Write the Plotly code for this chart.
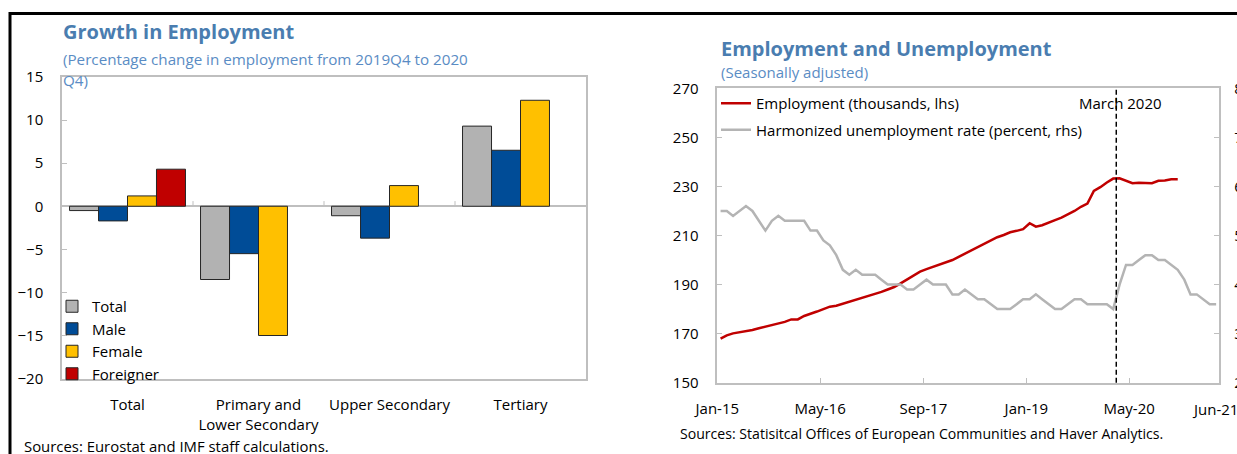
import pandas as pd
import plotly.graph_objects as go

# ---- Left panel: growth in employment by education level ----
categories = ["Total", "Primary and Lower Secondary", "Upper Secondary", "Tertiary"]
category_labels = ["Total", "Primary and<br>Lower Secondary", "Upper Secondary", "Tertiary"]
growth_total = [-0.5, -8.5, -1.1, 9.3]
growth_male = [-1.7, -5.5, -3.7, 6.5]
growth_female = [1.2, -15.0, 2.4, 12.3]
growth_foreigner = [4.3, None, None, None]

# ---- Right panel: monthly employment and unemployment rate ----
employment = [
    168.0, 169.3, 170.1, 170.5, 170.9, 171.5, 172.2, 172.9, 173.5, 174.0,
    174.8, 175.8, 175.8, 177.2, 178.0, 179.0, 180.0, 181.0, 181.4, 182.2,
    183.0, 183.7, 184.5, 185.4, 186.2, 187.0, 188.0, 189.0, 190.5, 192.2,
    193.8, 195.3, 196.3, 197.2, 198.0, 198.8, 200.0, 201.3, 202.6, 203.8,
    205.3, 206.8, 208.0, 209.3, 210.2, 211.3, 211.9, 212.6, 215.0, 213.6,
    214.2, 215.4, 216.3, 217.3, 218.5, 220.0, 221.7, 223.0, 228.2, 229.7,
    231.6, 233.2, 233.3, 232.3, 231.3, 231.5, 231.5, 231.3, 232.3, 232.4,
    232.9, 232.9,
]
unemployment_rate = [
    5.5, 5.5, 5.4, 5.5, 5.6, 5.5, 5.3, 5.1, 5.3, 5.4,
    5.3, 5.3, 5.3, 5.3, 5.1, 5.1, 4.9, 4.8, 4.6, 4.3,
    4.2, 4.3, 4.2, 4.2, 4.2, 4.1, 4.0, 4.0, 4.0, 3.9,
    3.9, 4.0, 4.1, 4.0, 4.0, 4.0, 3.8, 3.8, 3.9, 3.8,
    3.7, 3.7, 3.6, 3.5, 3.5, 3.5, 3.6, 3.7, 3.7, 3.8,
    3.7, 3.6, 3.5, 3.5, 3.6, 3.7, 3.7, 3.6, 3.6, 3.6,
    3.6, 3.5, 4.0, 4.4, 4.4, 4.5, 4.6, 4.6, 4.5, 4.5,
    4.4, 4.3, 4.1, 3.8, 3.8, 3.7, 3.6, 3.6,
]
employment_months = pd.date_range("2015-01-01", periods=len(employment), freq="MS")
unemployment_months = pd.date_range("2015-01-01", periods=len(unemployment_rate), freq="MS")
date_tick_values = ["2015-01-01", "2016-05-01", "2017-09-01", "2019-01-01", "2020-05-01"]
date_tick_labels = ["Jan-15", "May-16", "Sep-17", "Jan-19", "May-20"]
marker_date = "2020-03-01"

W, H = 1237, 454
FONT = "Open Sans"
TITLE_BLUE = "#4A7DB0"
SUB_BLUE = "#5A8CC4"
FRAME = "#BFBFBF"


def px_x(x):
    return x / W


def px_y(y):
    return 1 - y / H


fig = go.Figure()

bar_series = [
    ("Total", growth_total, "#B2B2B2"),
    ("Male", growth_male, "#004C97"),
    ("Female", growth_female, "#FFC000"),
    ("Foreigner", growth_foreigner, "#C00000"),
]
for name, values, color in bar_series:
    fig.add_trace(go.Bar(
        x=categories, y=values, name=name,
        marker=dict(color=color, line=dict(color="#262626", width=1)),
        xaxis="x", yaxis="y", legend="legend",
    ))

fig.add_trace(go.Scatter(
    x=employment_months, y=employment, name="Employment (thousands, lhs)",
    mode="lines", line=dict(color="#C00000", width=2.5),
    xperiod="M1", xperiodalignment="middle",
    xaxis="x2", yaxis="y3", legend="legend2", legendgroup="emp",
))
fig.add_trace(go.Scatter(
    x=unemployment_months, y=unemployment_rate,
    name="Harmonized unemployment rate (percent, rhs)",
    mode="lines", line=dict(color="#B4B4B4", width=2.5),
    xperiod="M1", xperiodalignment="middle",
    xaxis="x2", yaxis="y4", legend="legend2", legendgroup="unemp",
))

tick_font = dict(family=FONT, size=15, color="#000000")
left_dom_x = [px_x(62), px_x(586)]
left_dom_y = [px_y(378.6), px_y(77)]
right_dom_x = [px_x(717.3), px_x(1219.3)]
right_dom_y = [px_y(382.7), px_y(88.3)]

frame = dict(showline=True, mirror=True, linecolor=FRAME, linewidth=1.5,
             showgrid=False, automargin=False)
inside_ticks = dict(ticks="inside", ticklen=5, tickcolor=FRAME, tickwidth=1)

fig.update_layout(
    width=W, height=H, autosize=False,
    margin=dict(l=0, r=0, t=0, b=0, autoexpand=False),
    paper_bgcolor="white", plot_bgcolor="white",
    font=dict(family=FONT, size=15, color="#000000"),
    barmode="group", bargap=0.115, bargroupgap=0,
    xaxis=dict(
        domain=left_dom_x, anchor="y", type="category",
        range=[-0.5, 3.5], tickmode="array", tickvals=categories, ticktext=category_labels,
        ticks="", tickfont=tick_font, ticklabelstandoff=12, **frame,
    ),
    yaxis=dict(
        domain=left_dom_y, anchor="x", range=[-20, 15], tick0=0, dtick=5,
        zeroline=True, zerolinecolor=FRAME, zerolinewidth=1.5,
        tickfont=tick_font, ticklabelstandoff=14, **frame, **inside_ticks,
    ),
    yaxis2=dict(
        overlaying="y", side="right", anchor="x", range=[-20, 15], tick0=0, dtick=5,
        showline=False, showgrid=False, zeroline=False, automargin=False,
        tickfont=tick_font, ticklabelstandoff=14, **inside_ticks,
    ),
    xaxis2=dict(
        domain=right_dom_x, anchor="y3", type="date",
        range=["2015-01-01", "2021-07-01"],
        tickmode="array", tickvals=date_tick_values, ticktext=date_tick_labels,
        tickfont=tick_font, ticklabelstandoff=12, **frame, **inside_ticks,
    ),
    yaxis3=dict(
        domain=right_dom_y, anchor="x2", range=[150, 270], tick0=150, dtick=20,
        zeroline=False, tickfont=tick_font, ticklabelstandoff=14, **frame, **inside_ticks,
    ),
    yaxis4=dict(
        overlaying="y3", side="right", anchor="x2", range=[2, 8], tick0=2, dtick=1,
        showline=False, showgrid=False, zeroline=False, automargin=False,
        tickfont=tick_font, ticklabelstandoff=14, **inside_ticks,
    ),
    legend=dict(
        x=px_x(52), y=px_y(290), xanchor="left", yanchor="top",
        bgcolor="rgba(0,0,0,0)", font=dict(family=FONT, size=15),
        tracegroupgap=0, itemclick=False, traceorder="normal",
    ),
    legend2=dict(
        x=px_x(716), y=px_y(87), xanchor="left", yanchor="top",
        bgcolor="rgba(0,0,0,0)", font=dict(family=FONT, size=15),
        tracegroupgap=4, traceorder="grouped",
    ),
    showlegend=True,
)

shapes = []
# Category boundary ticks on the zero line
for b in [0.5, 1.5, 2.5]:
    shapes.append(dict(type="line", xref="x", yref="y", x0=b, x1=b, y0=0, y1=0.6,
                       line=dict(color=FRAME, width=1)))
# March 2020 marker
shapes.append(dict(type="line", xref="x2", yref="y3 domain", x0=marker_date, x1=marker_date,
                   y0=0, y1=1, line=dict(color="#000000", width=1.5, dash="5px,3px")))
# Outer border (top and left edges)
shapes.append(dict(type="line", xref="paper", yref="paper", x0=px_x(10), x1=1,
                   y0=px_y(13.5), y1=px_y(13.5), line=dict(color="#000000", width=3)))
shapes.append(dict(type="line", xref="paper", yref="paper", x0=px_x(10), x1=px_x(10),
                   y0=px_y(12), y1=0, line=dict(color="#000000", width=3)))
fig.update_layout(shapes=shapes)

annotations = [
    dict(text="<b>Growth in Employment</b>", x=px_x(61), y=px_y(32),
         font=dict(family=FONT, size=20, color=TITLE_BLUE)),
    dict(text="(Percentage change in employment from 2019Q4 to 2020", x=px_x(61), y=px_y(58.5),
         font=dict(family=FONT, size=15.2, color=SUB_BLUE)),
    dict(text="Q4)", x=px_x(61), y=px_y(80),
         font=dict(family=FONT, size=15.2, color=SUB_BLUE)),
    dict(text="Sources: Eurostat and IMF staff calculations.", x=px_x(22), y=px_y(445.5),
         font=dict(family=FONT, size=14.9, color="#000000")),
    dict(text="<b>Employment and Unemployment</b>", x=px_x(719), y=px_y(48.3),
         font=dict(family=FONT, size=20, color=TITLE_BLUE)),
    dict(text="(Seasonally adjusted)", x=px_x(719), y=px_y(71.7),
         font=dict(family=FONT, size=15, color=SUB_BLUE)),
    dict(text="Sources: Statisitcal Offices of European Communities and Haver Analytics.",
         x=px_x(678), y=px_y(433.3), font=dict(family=FONT, size=14.1, color="#000000")),
    dict(text="Jun-21", x=px_x(1215), y=px_y(408.5), xanchor="center",
         font=dict(family=FONT, size=15, color="#000000")),
    dict(text="March 2020", x=px_x(1120.5), y=px_y(103.3), xanchor="center",
         font=dict(family=FONT, size=15, color="#000000")),
]
for a in annotations:
    a.setdefault("xanchor", "left")
    a.update(xref="paper", yref="paper", yanchor="middle", showarrow=False)
fig.update_layout(annotations=annotations)

fig.write_html("out.html")
